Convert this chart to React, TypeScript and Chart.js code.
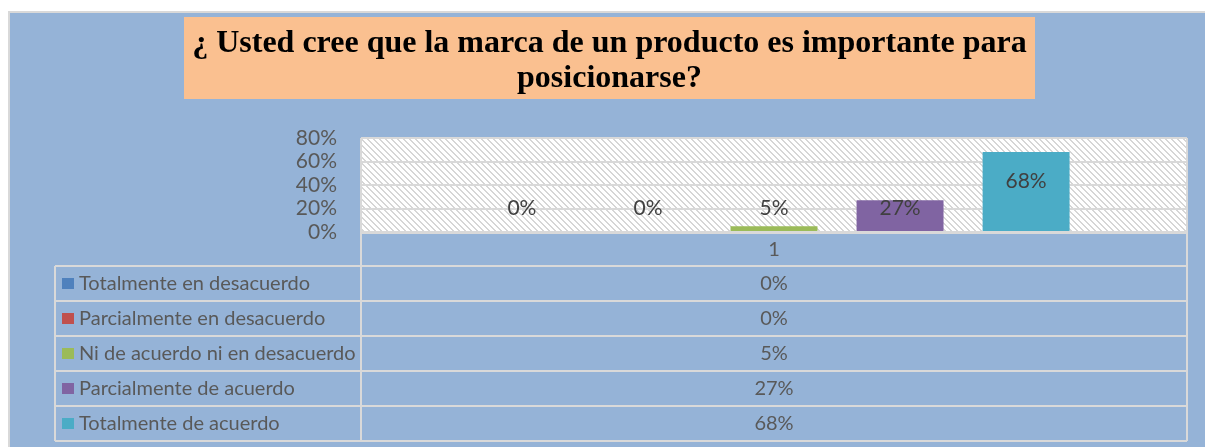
import React, { useEffect, useRef } from 'react';
import { Chart, registerables } from 'chart.js';

Chart.register(...registerables);

const TITLE_LINES = [
  '¿ Usted cree que la marca de un producto es importante para',
  'posicionarse?',
];
const CATEGORIES = ['1'];
const SERIES_NAMES = [
  'Totalmente en desacuerdo',
  'Parcialmente en desacuerdo',
  'Ni de acuerdo ni en desacuerdo',
  'Parcialmente de acuerdo',
  'Totalmente de acuerdo',
];
const SERIES_VALUES = [0, 0, 5, 27, 68];
const SERIES_COLORS = ['#4F81BD', '#C0504D', '#9BBB59', '#8064A2', '#4BACC6'];
const Y_MIN = 0;
const Y_MAX = 80;
const Y_STEP = 20;

const W = 1205;
const H = 447;
const FRAME_BG = '#95B3D7';
const LINE = '#D9D9D9';
const TEXT = '#595959';
const FONT = 'Lato';

function makePattern(ctx: CanvasRenderingContext2D) {
  const tile = document.createElement('canvas');
  tile.width = 6;
  tile.height = 6;
  const t = tile.getContext('2d')!;
  t.fillStyle = '#FFFFFF';
  t.fillRect(0, 0, 6, 6);
  t.fillStyle = '#D6D6D6';
  for (let y = 0; y < 6; y++) {
    for (let x = 0; x < 6; x++) {
      if ((x - y + 12) % 6 < 2) t.fillRect(x, y, 1, 1);
    }
  }
  return ctx.createPattern(tile, 'repeat');
}

export default function App() {
  const ref = useRef<HTMLCanvasElement | null>(null);

  useEffect(() => {
    const canvas = ref.current;
    if (!canvas) return;
    const ctx0 = canvas.getContext('2d')!;
    const pattern = makePattern(ctx0);
    const X_BAND = 34;
    const ROW_H = 35;

    const decor = {
      id: 'decor',
      beforeDraw(chart: any) {
        const ctx = chart.ctx as CanvasRenderingContext2D;
        const ca = chart.chartArea;
        ctx.save();
        ctx.fillStyle = '#FFFFFF';
        ctx.fillRect(0, 0, W, H);
        ctx.fillStyle = FRAME_BG;
        ctx.fillRect(8, 11, W - 8, H - 11);
        ctx.strokeStyle = LINE;
        ctx.lineWidth = 2;
        ctx.beginPath();
        ctx.moveTo(9, H);
        ctx.lineTo(9, 12);
        ctx.lineTo(W, 12);
        ctx.stroke();
        // title box
        ctx.fillStyle = '#FAC090';
        ctx.fillRect(184, 17, 851, 82);
        ctx.fillStyle = '#000000';
        ctx.font = "bold 32px 'Liberation Serif'";
        ctx.textAlign = 'center';
        ctx.textBaseline = 'alphabetic';
        ctx.fillText(TITLE_LINES[0], 609.5, 52);
        ctx.fillText(TITLE_LINES[1], 609.5, 87);
        // plot area pattern
        if (pattern) {
          ctx.fillStyle = pattern;
          ctx.fillRect(ca.left, ca.top, ca.right - ca.left, ca.bottom - ca.top);
        }
        ctx.restore();
      },
      afterDatasetsDraw(chart: any) {
        const ctx = chart.ctx as CanvasRenderingContext2D;
        const ys = chart.scales.y;
        ctx.save();
        ctx.fillStyle = '#404040';
        ctx.font = `21px ${FONT}`;
        ctx.textAlign = 'center';
        ctx.textBaseline = 'middle';
        chart.data.datasets.forEach((ds: any, i: number) => {
          const meta = chart.getDatasetMeta(i);
          const bar = meta.data[0];
          const v = ds.data[0];
          const pos = Math.max(v - 25, 20);
          ctx.fillText(`${v}%`, bar.x, ys.getPixelForValue(pos));
        });
        ctx.restore();
      },
      afterDraw(chart: any) {
        const ctx = chart.ctx as CanvasRenderingContext2D;
        const ca = chart.chartArea;
        const xs = chart.scales.x;
        const tableTop = ca.bottom + X_BAND;
        const n = chart.data.datasets.length;
        const tableBottom = tableTop + n * ROW_H;
        const tableLeft = 55;
        ctx.save();
        ctx.strokeStyle = LINE;
        ctx.lineWidth = 2;
        ctx.beginPath();
        ctx.moveTo(ca.left, ca.top);
        ctx.lineTo(ca.left, tableBottom);
        ctx.moveTo(ca.right, ca.top);
        ctx.lineTo(ca.right, tableBottom);
        ctx.moveTo(tableLeft, tableTop);
        ctx.lineTo(tableLeft, tableBottom);
        for (let r = 0; r <= n; r++) {
          const y = tableTop + r * ROW_H;
          ctx.moveTo(tableLeft, y);
          ctx.lineTo(ca.right, y);
        }
        ctx.stroke();
        ctx.lineWidth = 3;
        ctx.beginPath();
        ctx.moveTo(ca.left, ca.bottom + 0.5);
        ctx.lineTo(ca.right, ca.bottom + 0.5);
        ctx.stroke();
        // table text
        ctx.font = `20px ${FONT}`;
        ctx.textBaseline = 'middle';
        const cx = xs.getPixelForValue(0);
        chart.data.datasets.forEach((ds: any, i: number) => {
          const cy = tableTop + i * ROW_H + ROW_H / 2;
          ctx.fillStyle = ds.backgroundColor;
          ctx.fillRect(62, cy - 5.5, 12, 11);
          ctx.fillStyle = TEXT;
          ctx.textAlign = 'left';
          ctx.fillText(ds.label, 79, cy);
          ctx.textAlign = 'center';
          ctx.fillText(`${ds.data[0]}%`, cx, cy);
        });
        ctx.restore();
      },
    };

    const chart = new Chart(canvas, {
      type: 'bar',
      data: {
        labels: CATEGORIES,
        datasets: SERIES_NAMES.map((name, i) => ({
          label: name,
          data: [SERIES_VALUES[i]],
          backgroundColor: SERIES_COLORS[i],
          borderWidth: 0,
          categoryPercentage: 0.763,
          barPercentage: 0.69,
        })),
      },
      options: {
        responsive: false,
        animation: false,
        layout: { padding: { left: 0, top: 138, right: 18, bottom: 181 } },
        plugins: {
          legend: { display: false },
          tooltip: { enabled: false },
          title: { display: false },
        },
        scales: {
          x: {
            offset: true,
            grid: { display: false },
            border: { display: false },
            ticks: { color: TEXT, font: { family: FONT, size: 20 }, padding: -2 },
            afterFit: (s: any) => {
              s.height = X_BAND;
            },
          },
          y: {
            min: Y_MIN,
            max: Y_MAX,
            ticks: {
              stepSize: Y_STEP,
              autoSkip: false,
              color: TEXT,
              font: { family: FONT, size: 21 },
              padding: 24,
              callback: (v: any) => `${v}%`,
            },
            grid: { color: LINE, lineWidth: 2, drawTicks: false },
            border: { display: false },
            afterFit: (s: any) => {
              s.width = 361;
            },
          },
        },
      },
      plugins: [decor],
    } as any);

    return () => chart.destroy();
  }, []);

  return (
    <div style={{ position: 'absolute', left: 0, top: 0, width: W, height: H }}>
      <canvas ref={ref} width={W} height={H} style={{ display: 'block' }} />
    </div>
  );
}
